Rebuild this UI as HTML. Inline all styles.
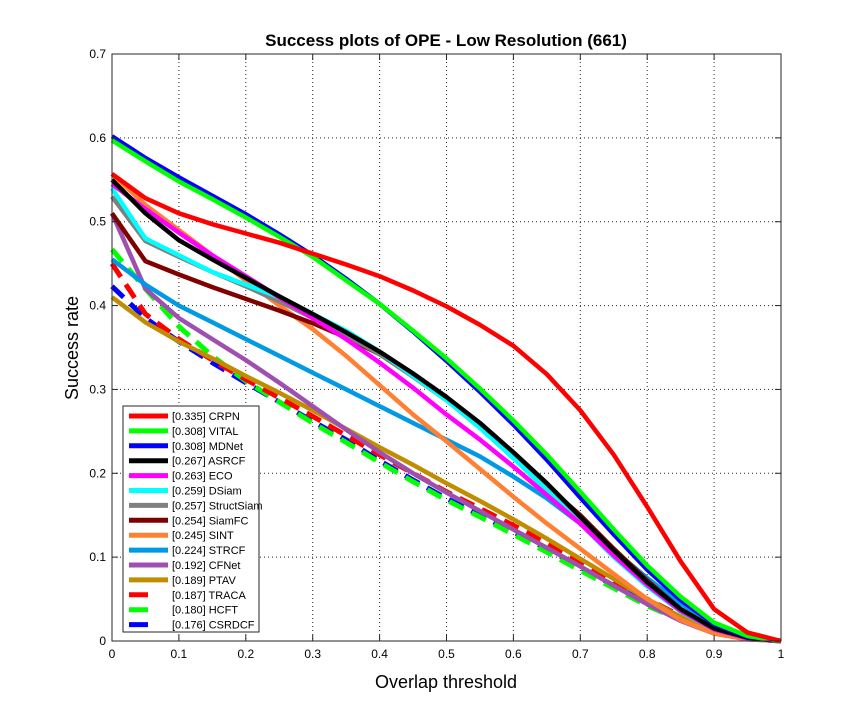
<!DOCTYPE html>
<html><head><meta charset="utf-8"><style>
body{margin:0;background:#fff;}
svg{display:block;font-family:"Liberation Sans",sans-serif;}
</style></head><body>
<svg id="chart" width="864" height="720">
<rect width="864" height="720" fill="#fff"/>
<text x="446" y="46" text-anchor="middle" font-size="17" font-weight="bold">Success plots of OPE - Low Resolution (661)</text>
<g id="grid"></g>
<g id="series"></g>
<rect x="112" y="54" width="669" height="587" fill="none" stroke="#262626" stroke-width="1"/>
<g id="ticks"></g>
<text x="446" y="688" text-anchor="middle" font-size="18">Overlap threshold</text>
<text transform="translate(78,348) rotate(-90)" text-anchor="middle" font-size="18">Success rate</text>
<g id="legend"></g>
</svg>
<script>
const xs=[0,0.05,0.1,0.15,0.2,0.25,0.3,0.35,0.4,0.45,0.5,0.55,0.6,0.65,0.7,0.75,0.8,0.85,0.9,0.95,1];
const xTicks=[0,0.1,0.2,0.3,0.4,0.5,0.6,0.7,0.8,0.9,1];
const yTicks=[0,0.1,0.2,0.3,0.4,0.5,0.6,0.7];
const names=["CRPN","VITAL","MDNet","ASRCF","ECO","DSiam","StructSiam","SiamFC","SINT","STRCF","CFNet","PTAV","TRACA","HCFT","CSRDCF"];
const scores=["0.335","0.308","0.308","0.267","0.263","0.259","0.257","0.254","0.245","0.224","0.192","0.189","0.187","0.180","0.176"];
const colors=["#ff0000","#00ff00","#0000ff","#000000","#ff00ff","#00ffff","#808080","#800000","#ff8033","#0099e6","#9f4fb0","#c08c00","#ff0000","#00ff00","#0000ff"];
const dashed=[false,false,false,false,false,false,false,false,false,false,false,false,true,true,true];
const sCRPN=[0.557,0.528,0.51,0.497,0.486,0.475,0.462,0.449,0.435,0.418,0.399,0.377,0.352,0.318,0.275,0.222,0.16,0.095,0.038,0.01,0];
const sVITAL=[0.597,0.572,0.548,0.527,0.505,0.482,0.458,0.43,0.402,0.37,0.337,0.301,0.263,0.222,0.178,0.133,0.09,0.053,0.022,0.006,0];
const sMDNet=[0.602,0.576,0.553,0.531,0.509,0.485,0.46,0.432,0.402,0.369,0.334,0.297,0.258,0.216,0.171,0.127,0.085,0.049,0.02,0.005,0];
const sASRCF=[0.55,0.51,0.478,0.455,0.433,0.411,0.39,0.368,0.345,0.319,0.291,0.26,0.225,0.188,0.148,0.108,0.07,0.038,0.015,0.004,0];
const sECO=[0.545,0.515,0.487,0.46,0.435,0.41,0.385,0.36,0.332,0.302,0.27,0.24,0.208,0.174,0.14,0.102,0.067,0.036,0.014,0.003,0];
const sDSiam=[0.54,0.48,0.46,0.44,0.425,0.41,0.39,0.37,0.345,0.316,0.287,0.254,0.218,0.18,0.14,0.1,0.065,0.035,0.014,0.004,0];
const sStructSiam=[0.53,0.477,0.458,0.44,0.423,0.405,0.385,0.365,0.342,0.315,0.287,0.255,0.22,0.183,0.145,0.106,0.07,0.038,0.015,0.004,0];
const sSiamFC=[0.51,0.453,0.437,0.422,0.408,0.394,0.379,0.362,0.342,0.317,0.29,0.258,0.223,0.185,0.15,0.11,0.072,0.038,0.015,0.004,0];
const sSINT=[0.557,0.52,0.49,0.46,0.43,0.40,0.372,0.34,0.305,0.27,0.238,0.205,0.172,0.14,0.11,0.08,0.05,0.025,0.009,0.002,0];
const sSTRCF=[0.455,0.425,0.4,0.38,0.36,0.34,0.32,0.3,0.28,0.26,0.24,0.22,0.196,0.17,0.14,0.108,0.075,0.045,0.02,0.005,0];
const sCFNet=[0.51,0.42,0.385,0.36,0.335,0.308,0.28,0.252,0.225,0.2,0.177,0.155,0.133,0.111,0.089,0.066,0.044,0.024,0.009,0.002,0];
const sPTAV=[0.41,0.38,0.357,0.337,0.316,0.296,0.275,0.253,0.231,0.21,0.188,0.167,0.145,0.122,0.098,0.074,0.05,0.029,0.012,0.003,0];
const sTRACA=[0.45,0.39,0.36,0.335,0.312,0.29,0.268,0.245,0.222,0.2,0.178,0.158,0.138,0.117,0.095,0.072,0.05,0.03,0.013,0.003,0];
const sHCFT=[0.467,0.42,0.375,0.34,0.31,0.285,0.26,0.237,0.213,0.19,0.168,0.148,0.127,0.106,0.084,0.063,0.042,0.025,0.011,0.003,0];
const sCSRDCF=[0.423,0.385,0.357,0.332,0.308,0.285,0.262,0.24,0.215,0.192,0.17,0.15,0.13,0.11,0.088,0.066,0.045,0.027,0.012,0.003,0];
const allSeries=[sCRPN,sVITAL,sMDNet,sASRCF,sECO,sDSiam,sStructSiam,sSiamFC,sSINT,sSTRCF,sCFNet,sPTAV,sTRACA,sHCFT,sCSRDCF];

const NS="http://www.w3.org/2000/svg";
const L=112,R=781,T=54,B=641;
const xS=v=>L+v*(R-L);
const yS=v=>B-v/0.7*(B-T);
function mk(tag,attrs,parent){const e=document.createElementNS(NS,tag);for(const k in attrs)e.setAttribute(k,attrs[k]);parent.appendChild(e);return e;}
const grid=document.getElementById('grid'),ticks=document.getElementById('ticks');
xTicks.forEach(t=>{
  if(t>0&&t<1){const g=mk('line',{x1:xS(t),x2:xS(t),y1:T,y2:B,stroke:'#262626','stroke-width':1,'stroke-dasharray':'1,3'},grid);
  
  }
  const tk=mk('text',{x:xS(t),y:B+17,'text-anchor':'middle','font-size':12},ticks);tk.textContent=String(t);
  
  
  mk('line',{x1:xS(t),x2:xS(t),y1:B,y2:B-6,stroke:'#262626'},ticks);
  mk('line',{x1:xS(t),x2:xS(t),y1:T,y2:T+6,stroke:'#262626'},ticks);
});
yTicks.forEach(t=>{
  if(t>0&&t<0.7){const g=mk('line',{x1:L,x2:R,y1:yS(t),y2:yS(t),stroke:'#262626','stroke-width':1,'stroke-dasharray':'1,3'},grid);
  
  }
  const tk=mk('text',{x:L-6,y:yS(t)+4,'text-anchor':'end','font-size':12},ticks);tk.textContent=String(t);
  
  
  mk('line',{x1:L,x2:L+6,y1:yS(t),y2:yS(t),stroke:'#262626'},ticks);
  mk('line',{x1:R,x2:R-6,y1:yS(t),y2:yS(t),stroke:'#262626'},ticks);
});
const ser=document.getElementById('series');
for(let i=allSeries.length-1;i>=0;i--){
  const d=allSeries[i].map((v,j)=>(j?'L':'M')+xS(xs[j]).toFixed(1)+','+yS(v).toFixed(1)).join('');
  const p=mk('path',{d:d,fill:'none',stroke:colors[i],'stroke-width':dashed[i]?5:4.5,'stroke-linejoin':'round'},ser);
  if(dashed[i])p.setAttribute('stroke-dasharray','16,9');
  
  
}
const leg=document.getElementById('legend');
const lb=mk('rect',{x:123,y:406,width:136,height:226,fill:'#fff',stroke:'#262626'},leg);


names.forEach((n,i)=>{
  const y=416+i*14.9;
  mk('line',{x1:129,x2:dashed[i]?148:168,y1:y,y2:y,stroke:colors[i],'stroke-width':5},leg);
  const t=mk('text',{x:172,y:y+4,'font-size':11},leg);t.textContent='['+scores[i]+'] '+n;
  
  
});
</script>
</body></html>
